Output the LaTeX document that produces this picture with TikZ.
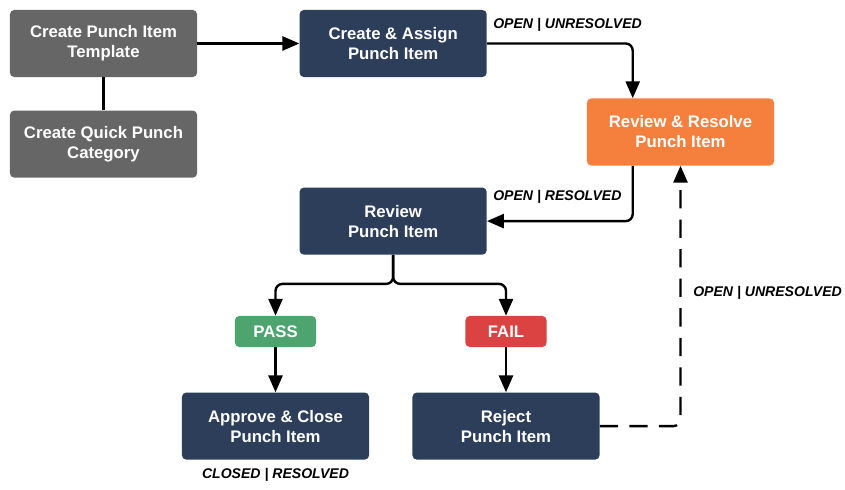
\documentclass[tikz,border=0pt]{standalone}
\usepackage{fontspec}
\setmainfont{Liberation Sans}
\usepackage{xcolor}
\usetikzlibrary{arrows.meta, positioning}

\definecolor{tmplgray}{HTML}{666666}
\definecolor{navy}{HTML}{2D3E5A}
\definecolor{resolveorange}{HTML}{F5803E}
\definecolor{passgreen}{HTML}{4DA46E}
\definecolor{failred}{HTML}{DB4343}

\begin{document}
\begin{tikzpicture}[
    x=0.025cm, y=-0.025cm,
    box/.style={rectangle, fill=navy, rounded corners=3pt, text=white,
        font=\fontsize{11.9}{14.2}\selectfont\bfseries, minimum width=4.675cm,
        minimum height=1.675cm, align=center, inner sep=2pt},
    tag/.style={rectangle, rounded corners=3pt, text=white,
        font=\fontsize{11.9}{14}\selectfont\bfseries, minimum width=2.025cm,
        minimum height=0.775cm, inner sep=1pt},
    arr/.style={-{Triangle[length=12pt, width=10pt]}, line width=1.7pt, black,
        rounded corners=5pt},
    state/.style={font=\fontsize{10}{11}\selectfont\bfseries\itshape, text=black,
        inner sep=0pt}
]
    \useasboundingbox[fill=white] (0,0) rectangle (845,490);
    % setup boxes
    \node[box, fill=tmplgray] (tmpl) at (103.5,43.5) {Create Punch Item\\Template};
    \node[box, fill=tmplgray, below=0.825cm of tmpl] (quick) {Create Quick Punch\\Category};
    % main flow
    \node[box, right=2.55cm of tmpl] (assign) {Create \& Assign\\Punch Item};
    \node[box, fill=resolveorange] (resolve) at (680.5,132) {Review \& Resolve\\Punch Item};
    \node[box, below=2.75cm of assign] (review) {Review\\Punch Item};
    \node[tag, fill=passgreen] (pass) at (275.5,331.5) {PASS};
    \node[tag, fill=failred] (fail) at (506,331.5) {FAIL};
    \node[box, below=1.125cm of pass] (approve) {Approve \& Close\\Punch Item};
    \node[box, below=1.125cm of fail] (reject) {Reject\\Punch Item};
    \coordinate[below=0.725cm of review.south] (split);

    \draw[line width=1.7pt] (tmpl) -- (quick);
    \draw[arr] (tmpl) -- (assign);
    \draw[arr] (assign.east) -| ([xshift=1.15cm]resolve.north west);
    \draw[arr] ([xshift=1.15cm]resolve.south west) |- (review.east);
    \draw[arr] (review.south) -- (split) -| (pass.north);
    \draw[arr] (review.south) -- (split) -| (fail.north);
    \draw[arr] (pass) -- (approve);
    \draw[arr] (fail) -- (reject);
    \draw[arr, dash pattern=on 13pt off 8pt] (reject.east) -| (resolve.south);

    % status labels
    \node[state, anchor=west] (st1) at (493,25) {OPEN | UNRESOLVED};
    \node[state, anchor=west] (st2) at (493,197) {OPEN | RESOLVED};
    \node[state, anchor=west] (st3) at (693,293) {OPEN | UNRESOLVED};
    \node[state] (st4) at (275.5,475) {CLOSED | RESOLVED};
\end{tikzpicture}
\end{document}
